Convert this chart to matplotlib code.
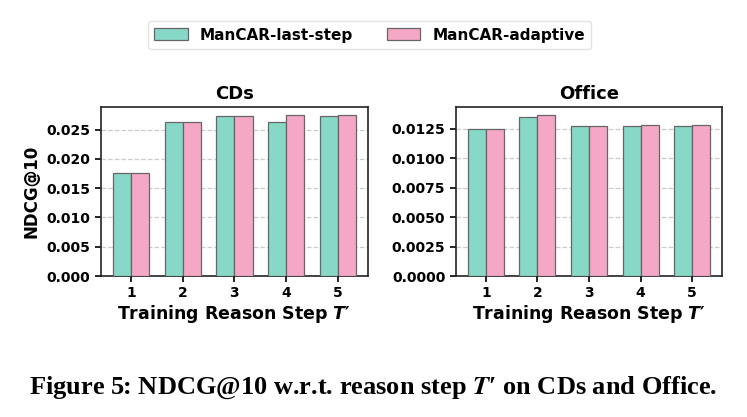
import numpy as np
import matplotlib
matplotlib.use("Agg")
import matplotlib.pyplot as plt

# data
steps = [1, 2, 3, 4, 5]
cds_last = [0.01760, 0.02637, 0.02727, 0.02637, 0.02727]
cds_adaptive = [0.01760, 0.02637, 0.02727, 0.02744, 0.02744]
office_last = [0.01250, 0.01352, 0.01270, 0.01270, 0.01270]
office_adaptive = [0.01250, 0.01363, 0.01270, 0.01284, 0.01284]
titles = ["CDs", "Office"]
labels = ["ManCAR-last-step", "ManCAR-adaptive"]

teal = "#88D8C8"
pink = "#F5A8C5"
edge = "#666666"
width = 0.35

plt.rcParams["font.family"] = "DejaVu Sans"
plt.rcParams["font.weight"] = "bold"

fig = plt.figure(figsize=(7.47, 4.17), dpi=100)
ax1 = fig.add_axes([0.1348, 0.338, 0.358, 0.4046])
ax2 = fig.add_axes([0.6100, 0.338, 0.357, 0.4046])

x = np.array(steps)
for ax, last, adap, title in [(ax1, cds_last, cds_adaptive, titles[0]),
                              (ax2, office_last, office_adaptive, titles[1])]:
    ax.bar(x - width / 2, last, width, color=teal, edgecolor=edge,
           linewidth=0.9, label=labels[0], zorder=3)
    ax.bar(x + width / 2, adap, width, color=pink, edgecolor=edge,
           linewidth=0.9, label=labels[1], zorder=3)
    ax.set_xticks(x)
    ax.set_title(title, fontsize=13, fontweight="bold", pad=6)
    ax.set_xlabel(r"Training Reason Step $\boldsymbol{T}$′", fontsize=12.5,
                  fontweight="bold", labelpad=2)
    ax.yaxis.grid(True, linestyle="--", color="#cccccc", linewidth=0.9, zorder=0)
    ax.set_axisbelow(True)
    ax.tick_params(labelsize=10, width=1.2, length=4)
    for lab in ax.get_xticklabels() + ax.get_yticklabels():
        lab.set_fontweight("bold")
    for sp in ax.spines.values():
        sp.set_linewidth(1.2)
        sp.set_color("#222222")

ax1.set_yticks([0, 0.005, 0.010, 0.015, 0.020, 0.025])
ax1.set_yticklabels(["0.000", "0.005", "0.010", "0.015", "0.020", "0.025"])
ax2.set_yticks([0, 0.0025, 0.005, 0.0075, 0.010, 0.0125])
ax2.set_yticklabels(["0.0000", "0.0025", "0.0050", "0.0075", "0.0100", "0.0125"])
ax1.set_ylabel("NDCG@10", fontsize=12, fontweight="bold", labelpad=4)

handles, labs = ax1.get_legend_handles_labels()
fig.legend(handles, labs, loc="center", bbox_to_anchor=(0.495, 0.916), ncol=2,
           prop={"size": 11, "weight": "bold"}, frameon=True, edgecolor="#dddddd",
           handlelength=2.2, handleheight=0.8, columnspacing=2.2, borderpad=0.4)

fig.text(0.5, 0.07, r"Figure 5: NDCG@10 w.r.t. reason step $T$′ on CDs and Office.",
         ha="center", va="center", fontsize=19, fontweight="bold",
         family="Liberation Serif", math_fontfamily="stix")

fig.savefig("out.png", dpi=100)
